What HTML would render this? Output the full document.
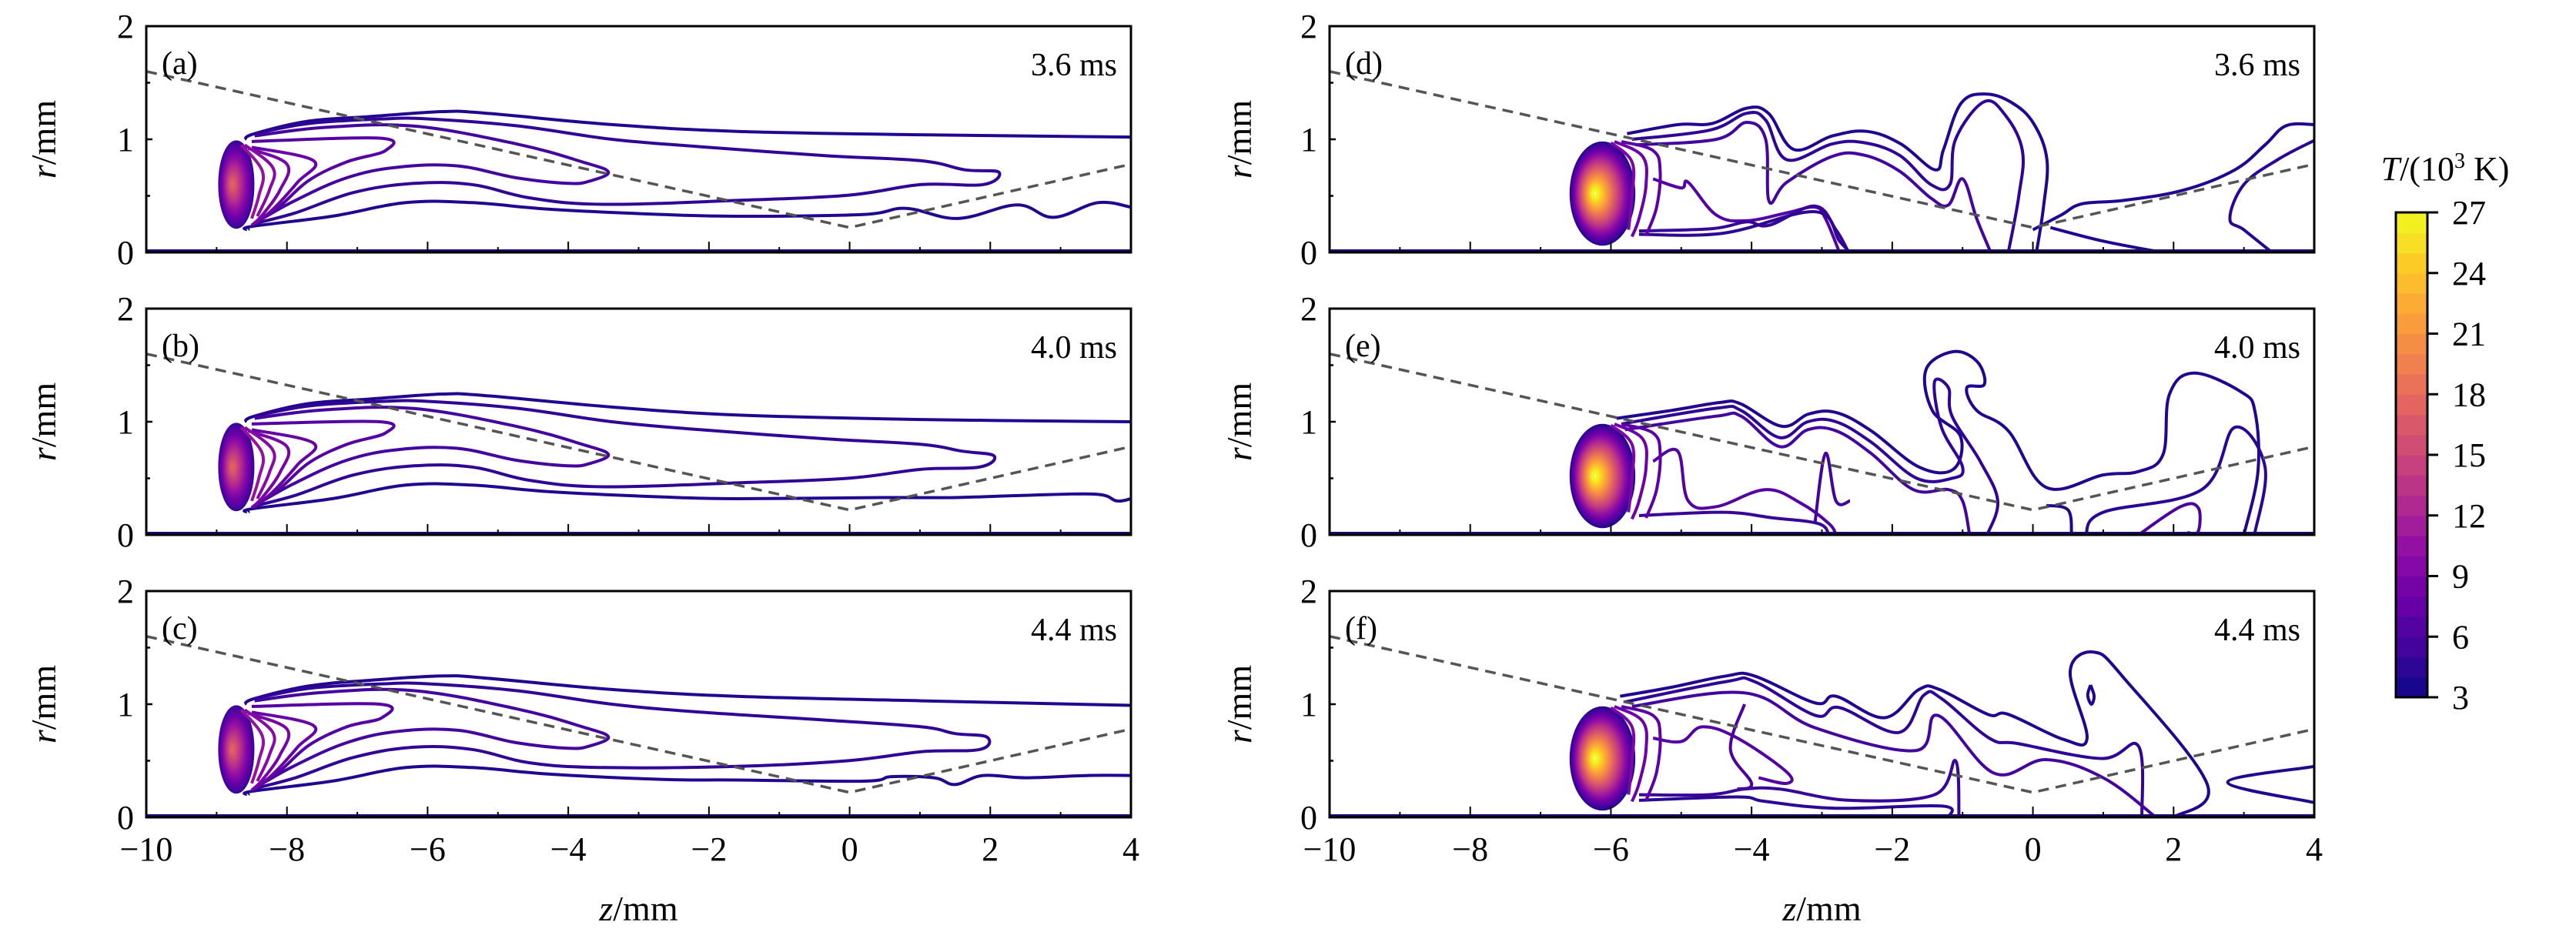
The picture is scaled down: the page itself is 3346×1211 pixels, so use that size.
<!DOCTYPE html>
<html><head><meta charset="utf-8">
<style>
html,body{margin:0;padding:0;background:#fff;}
svg{display:block;font-family:"Liberation Serif",serif;}
</style></head>
<body>
<svg id="fig" width="3346" height="1211" viewBox="0 0 3346 1211" xmlns="http://www.w3.org/2000/svg">
<defs><clipPath id="clipL"><rect x="0" y="0" width="1279" height="294"/></clipPath></defs>
</svg>
<script>
const zTicks=[-10,-8,-6,-4,-2,0,2,4];
const zTickLabels=["\u221210","\u22128","\u22126","\u22124","\u22122","0","2","4"];
const rTicks=[0,1,2];
const cbTicks=[3,6,9,12,15,18,21,24,27];
const dashedZ=[-10,0,4];
const dashedR=[1.6,0.22,0.78];
const panelLabels=["(a)","(b)","(c)","(d)","(e)","(f)"];
const timeLabels=["3.6 ms","4.0 ms","4.4 ms","3.6 ms","4.0 ms","4.4 ms"];
// core hot spot: [zCenter, rCenter, zHalf, rHalf, minLevel, maxLevel]
const coreLeft=[-8.72,0.6,0.24,0.38,5,17];
const coreRight=[-6.12,0.52,0.45,0.45,4,27];

const contoursA=[
[4,[-8.6,1.0,-8.46,1.05,-7.7,1.16,-6.84,1.2,-5.79,1.245,-5.16,1.23,-3.38,1.13,-1.6,1.07,1.02,1.04,4,1.02]],
[4,[-8.55,0.2,-8.5,0.23,-7.36,0.32,-6.31,0.44,-5.37,0.44,-4.22,0.38,-2.65,0.335,-1.6,0.32,0.18,0.335,0.8,0.39,1.54,0.30,2.38,0.42,2.9,0.31,3.53,0.44,4,0.40]],
[4.6,[-8.46,1.05,-7.68,1.14,-6.63,1.18,-6.0,1.18,-4.74,1.12,-3.38,1.0,-2.13,0.935,-0.35,0.856,1.02,0.81,1.64,0.73,2.12,0.71,1.9,0.6,1.02,0.6,-0.03,0.505,-1.6,0.46,-3.49,0.425,-4.53,0.48,-5.37,0.6,-6.2,0.61,-7.05,0.53,-7.88,0.35,-8.46,0.256]],
[5.6,[-8.46,1.03,-7.47,1.105,-6.2,1.117,-4.74,0.96,-3.8,0.8,-3.43,0.71,-3.7,0.63,-4.0,0.61,-4.74,0.66,-5.58,0.765,-6.42,0.754,-7.15,0.66,-7.88,0.46,-8.4,0.28]],
[6.6,[-8.5,0.98,-6.68,1.01,-6.6,0.9,-7.15,0.8,-7.68,0.64,-8.1,0.41,-8.46,0.26]],
[7.6,[-8.5,0.93,-7.62,0.81,-7.85,0.62,-8.2,0.38,-8.46,0.25]],
[8.6,[-8.55,0.92,-8.0,0.78,-8.1,0.55,-8.35,0.33,-8.5,0.24]],
[9.6,[-8.6,0.95,-8.2,0.75,-8.25,0.55,-8.42,0.32]],
[10.6,[-8.65,0.95,-8.35,0.72,-8.4,0.5,-8.5,0.3]]
];
const contoursB=[
[4,[-8.6,1.0,-8.46,1.05,-7.7,1.16,-6.84,1.2,-5.79,1.245,-5.16,1.23,-3.38,1.13,-1.6,1.06,1.02,1.02,4,1.0]],
[4,[-8.55,0.2,-8.5,0.23,-7.36,0.32,-6.31,0.44,-5.37,0.44,-4.22,0.38,-2.65,0.335,-1.6,0.32,0.5,0.33,1.5,0.33,2.5,0.35,3.5,0.36,3.8,0.3,4,0.32]],
[4.6,[-8.46,1.05,-7.68,1.14,-6.63,1.18,-6.0,1.18,-4.74,1.12,-3.38,1.0,-2.13,0.93,-0.35,0.85,1.02,0.8,1.6,0.74,2.05,0.7,1.85,0.6,1.02,0.58,-0.03,0.5,-1.6,0.46,-3.49,0.425,-4.53,0.48,-5.37,0.6,-6.2,0.61,-7.05,0.53,-7.88,0.35,-8.46,0.256]],
[5.6,[-8.46,1.03,-7.47,1.105,-6.2,1.117,-4.74,0.96,-3.8,0.8,-3.43,0.71,-3.7,0.63,-4.0,0.61,-4.74,0.66,-5.58,0.765,-6.42,0.754,-7.15,0.66,-7.88,0.46,-8.4,0.28]],
[6.6,[-8.5,0.98,-6.68,1.0,-6.6,0.9,-7.15,0.8,-7.68,0.64,-8.1,0.41,-8.46,0.26]],
[7.6,[-8.5,0.93,-7.62,0.81,-7.85,0.62,-8.2,0.38,-8.46,0.25]],
[8.6,[-8.55,0.92,-8.0,0.78,-8.1,0.55,-8.35,0.33,-8.5,0.24]],
[9.6,[-8.6,0.95,-8.2,0.75,-8.25,0.55,-8.42,0.32]],
[10.6,[-8.65,0.95,-8.35,0.72,-8.4,0.5,-8.5,0.3]]
];
const contoursC=[
[4,[-8.6,1.0,-8.46,1.05,-7.7,1.16,-6.84,1.21,-5.79,1.25,-5.16,1.23,-3.38,1.13,-1.6,1.07,1.02,1.03,4,0.99]],
[4,[-8.55,0.2,-8.5,0.23,-7.36,0.32,-6.31,0.44,-5.37,0.44,-4.22,0.38,-2.65,0.335,-1.6,0.33,0.2,0.32,0.6,0.36,1.2,0.35,1.5,0.29,1.9,0.37,2.5,0.35,3.4,0.37,4,0.37]],
[4.6,[-8.46,1.05,-7.68,1.14,-6.63,1.18,-6.0,1.18,-4.74,1.12,-3.38,1.0,-2.13,0.93,-0.35,0.86,1.02,0.8,1.5,0.74,1.95,0.71,1.85,0.6,1.02,0.58,-0.03,0.5,-1.6,0.45,-3.49,0.44,-4.53,0.48,-5.37,0.6,-6.2,0.62,-7.05,0.53,-7.88,0.35,-8.46,0.256]],
[5.6,[-8.46,1.03,-7.47,1.105,-6.2,1.12,-4.74,0.96,-3.8,0.8,-3.43,0.71,-3.7,0.63,-4.0,0.61,-4.74,0.66,-5.58,0.77,-6.42,0.76,-7.15,0.66,-7.88,0.46,-8.4,0.28]],
[6.6,[-8.5,0.98,-6.68,1.0,-6.65,0.88,-7.15,0.8,-7.68,0.64,-8.1,0.41,-8.46,0.26]],
[7.6,[-8.5,0.93,-7.62,0.81,-7.85,0.62,-8.2,0.38,-8.46,0.25]],
[8.6,[-8.55,0.92,-8.0,0.78,-8.1,0.55,-8.35,0.33,-8.5,0.24]],
[9.6,[-8.6,0.95,-8.2,0.75,-8.25,0.55,-8.42,0.32]],
[10.6,[-8.65,0.95,-8.35,0.72,-8.4,0.5,-8.5,0.3]]
];
const contoursD=[
[4,[-5.77,1.05,-5.04,1.13,-4.56,1.14,-4.07,1.275,-3.76,1.23,-3.4,0.91,-2.85,1.03,-2.36,1.07,-1.88,0.96,-1.39,0.73,-1.27,0.91,-1.02,1.32,-0.66,1.40,-0.29,1.32,0.01,1.14,0.2,0.82,0.15,0.4,0.05,0]],
[4.6,[-5.7,1.0,-4.6,1.08,-4.07,1.23,-3.8,1.17,-3.5,0.82,-2.85,0.96,-2.4,0.97,-1.9,0.86,-1.45,0.6,-1.18,0.6,-1.1,1.0,-0.7,1.33,-0.4,1.22,-0.15,0.9,-0.2,0.5,-0.35,0]],
[5.6,[-5.65,0.95,-4.5,1.0,-4.07,1.15,-3.8,1.0,-3.75,0.45,-3.5,0.62,-2.85,0.85,-2.4,0.86,-1.9,0.72,-1.45,0.48,-1.2,0.42,-1.0,0.65,-0.8,0.3,-0.6,0]],
[6.5,[-5.4,0.65,-5.0,0.57,-4.9,0.62,-4.5,0.33,-4.07,0.28,-3.5,0.35,-3.1,0.40,-2.95,0.3,-2.75,0]],
[5,[-5.6,0.19,-4.56,0.21,-4.07,0.27,-3.75,0.24,-3.1,0.41,-2.8,0.2,-2.62,0]],
[4.5,[-5.6,0.16,-4.4,0.17,-3.1,0.36,-2.75,0.1,-2.6,0]],
[4,[0.0,0.2,0.4,0.33,0.7,0.43,1.29,0.46,2.14,0.55,2.87,0.73,3.3,0.95,3.6,1.12,4,1.13]],
[4,[0.25,0.22,1.0,0.1,1.84,0]],
[4.4,[4,0.99,3.48,0.82,3.0,0.6,2.8,0.3,3.0,0.2,3.4,0]],
[7,[-5.85,0.98,-5.4,0.9,-5.3,0.72,-5.35,0.4,-5.5,0.15]],
[8,[-5.95,0.98,-5.55,0.85,-5.5,0.6,-5.6,0.3,-5.7,0.14]],
[9,[-6.0,0.97,-5.7,0.8,-5.7,0.5,-5.75,0.2]]
];
const contoursE=[
[4,[-5.92,1.03,-5.14,1.10,-4.45,1.17,-4.16,1.16,-3.57,0.96,-3.18,1.07,-2.79,1.08,-2.3,0.92,-1.62,0.60,-1.13,0.58,-1.03,0.87,-1.43,1.10,-1.52,1.46,-1.13,1.62,-0.79,1.53,-0.69,1.33,-0.94,1.30,-0.8,1.1,-0.35,0.92,0.19,0.42,1.0,0.53,1.5,0.56,1.85,0.71,1.94,1.24,2.29,1.43,2.97,1.26,3.16,1.08,3.2,0.56,3.0,0]],
[4.6,[-5.85,0.98,-4.5,1.12,-4.15,1.1,-3.6,0.86,-3.2,1.0,-2.8,1.0,-2.3,0.82,-1.65,0.5,-1.15,0.5,-1.0,0.6,-1.3,0.95,-1.4,1.35,-1.2,1.3,-1.15,1.05,-0.75,0.65,-0.5,0.3,-0.65,0]],
[5.6,[-5.8,0.93,-4.5,1.05,-4.15,1.05,-3.6,0.78,-3.2,0.93,-2.8,0.92,-2.3,0.72,-1.7,0.4,-1.2,0.4,-1.0,0.3,-0.9,0]],
[4,[0.19,0.26,0.5,0.22,0.55,0]],
[4.3,[0.75,0,1.0,0.2,2.4,0.4,2.87,0.95,3.3,0.6,3.15,0]],
[6,[1.5,0,2.1,0.25,2.35,0.24,2.35,0.03,2.2,0.02]],
[6.5,[-5.4,0.65,-5.05,0.74,-4.9,0.3,-4.5,0.25,-3.8,0.4,-3.3,0.28,-2.9,0.1,-2.8,0]],
[5.5,[-3.1,0.1,-2.95,0.72,-2.8,0.3,-2.6,0.3]],
[5,[-5.6,0.17,-4.4,0.2,-3.7,0.15,-3.05,0.1,-2.9,0]],
[7,[-5.85,0.98,-5.4,0.9,-5.3,0.72,-5.35,0.4,-5.5,0.15]],
[8,[-5.95,0.98,-5.55,0.85,-5.5,0.6,-5.6,0.3,-5.7,0.14]],
[9,[-6.0,0.97,-5.7,0.8,-5.7,0.5,-5.75,0.2]]
];
const contoursF=[
[4,[-5.87,1.07,-5.14,1.15,-4.36,1.25,-3.96,1.25,-3.09,1.01,-2.8,1.07,-2.11,0.88,-1.62,1.13,-1.33,1.13,-0.64,0.91,-0.35,0.91,0.43,0.69,0.77,0.70,0.53,1.29,0.87,1.46,1.31,1.22,2.48,0.29,2.0,0]],
[4,[4,0.45,2.77,0.31,4,0.13]],
[4,[0.82,1.17,0.87,1.07,0.83,1.0,0.78,1.08,0.82,1.17]],
[4.6,[-5.8,1.02,-4.36,1.2,-3.96,1.2,-3.09,0.9,-2.75,0.97,-1.91,0.75,-1.55,1.08,-1.3,1.05,-0.62,0.7,-0.2,0.65,0.98,0.52,1.5,0.63,1.55,0]],
[5.6,[-5.7,0.98,-4.1,1.1,-3.09,0.79,-1.67,0.59,-1.35,0.9,-0.55,0.39,0.19,0.51,1.0,0.35,1.75,0]],
[6.5,[-5.4,0.7,-5.0,0.67,-4.7,0.8,-4.2,0.7,-3.5,0.4,-3.5,0.3,-3.9,0.35]],
[5,[-5.6,0.2,-4.6,0.2,-4.1,0.25,-3.6,0.25,-2.6,0.15,-1.4,0.2,-1.1,0.5,-1.05,0]],
[4.5,[-5.6,0.15,-4.2,0.18,-3.8,0.14,-2.8,0.08,-1.3,0.1,-1.2,0]],
[6,[-4.1,1.0,-4.3,0.6,-4.0,0.3,-4.2,0.25]],
[7,[-5.85,0.98,-5.4,0.9,-5.3,0.72,-5.35,0.4,-5.5,0.15]],
[8,[-5.95,0.98,-5.55,0.85,-5.5,0.6,-5.6,0.3,-5.7,0.14]],
[9,[-6.0,0.97,-5.7,0.8,-5.7,0.5,-5.75,0.2]]
];

const NS="http://www.w3.org/2000/svg";
const svg=document.getElementById('fig');
const plasma=["#0d0887","#41049d","#6a00a8","#8f0da4","#b12a90","#cc4778","#e16462","#f2844b","#fca636","#fcce25","#f0f921"];
function hex(c){return [parseInt(c.slice(1,3),16),parseInt(c.slice(3,5),16),parseInt(c.slice(5,7),16)];}
function color(level){
  let t=(level-3)/24; t=Math.max(0,Math.min(1,t));
  const p=t*10, i=Math.min(9,Math.floor(p)), f=p-i;
  const a=hex(plasma[i]), b=hex(plasma[i+1]);
  return 'rgb('+a.map((v,k)=>Math.round(v+(b[k]-v)*f)).join(',')+')';
}
function mk(tag,attrs,parent){const e=document.createElementNS(NS,tag);for(const k in attrs)e.setAttribute(k,attrs[k]);(parent||svg).appendChild(e);return e;}
function smoothPath(P){
  let d='M'+P[0][0].toFixed(1)+','+P[0][1].toFixed(1);
  for(let i=0;i<P.length-1;i++){
    const p0=P[Math.max(0,i-1)],p1=P[i],p2=P[i+1],p3=P[Math.min(P.length-1,i+2)];
    const k=0.18;
    const c1=[p1[0]+(p2[0]-p0[0])*k,p1[1]+(p2[1]-p0[1])*k];
    const c2=[p2[0]-(p3[0]-p1[0])*k,p2[1]-(p3[1]-p1[1])*k];
    d+='C'+c1[0].toFixed(1)+','+c1[1].toFixed(1)+' '+c2[0].toFixed(1)+','+c2[1].toFixed(1)+' '+p2[0].toFixed(1)+','+p2[1].toFixed(1);
  }
  return d;
}

const PW=1279, PH=294;
const panels=[
 {x:190,y:34,c:contoursA,core:coreLeft},
 {x:190,y:401,c:contoursB,core:coreLeft},
 {x:190,y:768,c:contoursC,core:coreLeft},
 {x:1727,y:34,c:contoursD,core:coreRight},
 {x:1727,y:401,c:contoursE,core:coreRight},
 {x:1727,y:768,c:contoursF,core:coreRight}
];
panels.forEach((p,idx)=>{
  const sx=z=>(z+10)/14*PW, sy=r=>PH-r/2*PH;
  const g=mk('g',{transform:'translate('+p.x+','+p.y+')'});
  
  
  const plot=mk('g',{'clip-path':'url(#clipL)'},g);
  const [cz,cr,ax,ar,l0,l1]=p.core;
  const n=(l1-l0)*2;
  for(let i=0;i<=n;i++){
    const s=1-i/n*0.94;
    const lv=l0+(l1-l0)*i/n;
    const el=mk('ellipse',{cx:sx(cz-ax*0.25*(1-s)),cy:sy(cr),rx:ax*s/14*PW,ry:ar*s/2*PH,fill:'none',stroke:color(lv),'stroke-width':3.2},plot);
    
    
  }
  p.c.forEach(ct=>{
    const pts=ct[1]; const P=[];
    for(let i=0;i<pts.length;i+=2)P.push([sx(pts[i]),sy(pts[i+1])]);
    const pa=mk('path',{d:smoothPath(P),fill:'none',stroke:color(ct[0]),'stroke-width':4,'stroke-linejoin':'round'},plot);
    
    
  });
  mk('line',{x1:0,y1:PH-2,x2:PW,y2:PH-2,stroke:'#1a0a6a','stroke-width':4},plot);
  let dd='';
  dashedZ.forEach((z,i)=>{dd+=(i?'L':'M')+sx(z)+','+sy(dashedR[i]);});
  const dl=mk('path',{d:dd,fill:'none',stroke:'#555','stroke-width':3.5,'stroke-dasharray':'14 9'},plot);
  
  
  for(let z=-10;z<=4;z++){
    const major=(z%2===0);
    mk('line',{x1:sx(z),y1:PH,x2:sx(z),y2:PH-(major?14:7),stroke:'#000','stroke-width':2},g);
  }
  for(let r=0;r<=2;r+=0.5){
    mk('line',{x1:0,y1:sy(r),x2:(r%1===0?8:5),y2:sy(r),stroke:'#000','stroke-width':2.5},g);
  }
  const fr=mk('rect',{x:0,y:0,width:PW,height:PH,fill:'none',stroke:'#000','stroke-width':3},g);
  
  
  rTicks.forEach(r=>{
    const t=mk('text',{x:-16,y:sy(r)+15,'text-anchor':'end','font-size':44},g);
    t.textContent=r;
    
    
  });
  const pl=mk('text',{x:20,y:62,'font-size':42},g);
  pl.textContent=panelLabels[idx];
  
  
  const tl=mk('text',{x:PW-18,y:64,'text-anchor':'end','font-size':42},g);
  tl.textContent=timeLabels[idx];
  
  
  const yt=mk('text',{transform:'translate('+(idx<3?72-p.x:1625-p.x)+','+(PH/2)+') rotate(-90)','text-anchor':'middle','font-size':46},g);
  yt.innerHTML='<tspan font-style="italic">r</tspan>/mm';
  
  
  if(idx===2||idx===5){
    zTicks.forEach((z,i)=>{
      const t=mk('text',{x:sx(z),y:PH+56,'text-anchor':'middle','font-size':44},g);
      t.textContent=zTickLabels[i];
      
      
    });
    const xt=mk('text',{x:PW/2,y:PH+134,'text-anchor':'middle','font-size':46},g);
    xt.innerHTML='<tspan font-style="italic">z</tspan>/mm';
    
    
  }
});
const cb=mk('g',{});


const cbX=3112,cbW=41,cbTop=276,cbBot=906;
const cy=v=>cbBot-(v-3)/24*(cbBot-cbTop);
for(let v=3;v<27;v++){
  mk('rect',{x:cbX,y:cy(v+1),width:cbW,height:cy(v)-cy(v+1)+0.6,fill:color(v+0.5)},cb);
}
mk('rect',{x:cbX,y:cbTop,width:cbW,height:cbBot-cbTop,fill:'none',stroke:'#000','stroke-width':3},cb);
cbTicks.forEach(v=>{
  mk('line',{x1:cbX+cbW,y1:cy(v),x2:cbX+cbW+14,y2:cy(v),stroke:'#000','stroke-width':3},cb);
  const t=mk('text',{x:3185,y:cy(v)+15,'font-size':44},cb);
  t.textContent=v;
  
  
});
const ct=mk('text',{x:3176,y:234,'text-anchor':'middle','font-size':44},cb);
ct.innerHTML='<tspan font-style="italic">T</tspan>/(10<tspan font-size="28" dy="-16">3</tspan><tspan dy="16"> K)</tspan>';


</script>
</body></html>
